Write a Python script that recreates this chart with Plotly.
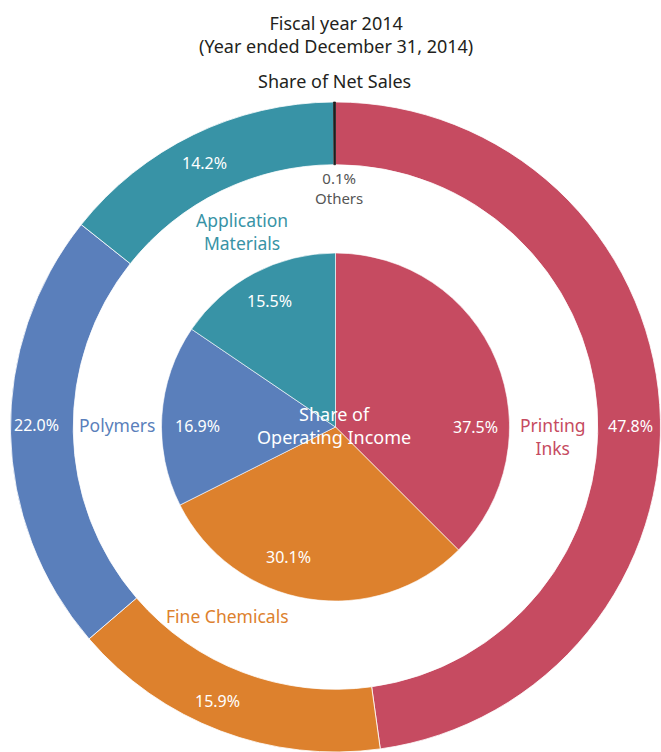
import plotly.graph_objects as go

# ---- data ----
outer_labels = ["Printing Inks", "Fine Chemicals", "Polymers", "Application Materials", "Others"]
outer_values = [47.8, 15.9, 22.0, 14.2, 0.1]
inner_labels = ["Printing Inks", "Fine Chemicals", "Polymers", "Application Materials"]
inner_values = [37.5, 30.1, 16.9, 15.5]

colors = {
    "Printing Inks": "#C64B61",
    "Fine Chemicals": "#DD812D",
    "Polymers": "#5A7FBB",
    "Application Materials": "#3893A6",
    "Others": "#1E1E1E",
}

W, H = 661, 752
FONT = "Noto Sans"

# label positions (pixels) for percentage texts
outer_pct_pos = {"Printing Inks": (630, 426), "Fine Chemicals": (217, 701),
                 "Polymers": (36, 425), "Application Materials": (205, 163)}
inner_pct_pos = {"Printing Inks": (475, 427), "Fine Chemicals": (288, 557),
                 "Polymers": (197, 426), "Application Materials": (269, 301)}

fig = go.Figure()

fig.add_trace(go.Pie(
    labels=outer_labels, values=outer_values, sort=False, direction="clockwise",
    rotation=0, hole=0.807,
    marker=dict(colors=[colors[l] for l in outer_labels],
                line=dict(color=["white"] * 4 + [colors["Others"]], width=0.8)),
    textinfo="none",
    domain=dict(x=[10 / W, 1.0], y=[0.0, 1 - 102 / H]),
    showlegend=False, hoverinfo="label+percent",
))

fig.add_trace(go.Pie(
    labels=inner_labels, values=inner_values, sort=False, direction="clockwise",
    rotation=0,
    marker=dict(colors=[colors[l] for l in inner_labels], line=dict(color="white", width=0.6)),
    textinfo="none",
    domain=dict(x=[(335.5 - 174) / W, (335.5 + 174) / W], y=[1 - 601 / H, 1 - 253 / H]),
    showlegend=False, hoverinfo="label+percent",
))

def ann(text, px, py, color, size=17.5):
    fig.add_annotation(text=text, x=px / W, y=1 - py / H, xref="paper", yref="paper",
                       showarrow=False, font=dict(family=FONT, size=size, color=color),
                       xanchor="center", yanchor="middle", align="center")

for lab, val in zip(outer_labels, outer_values):
    if lab in outer_pct_pos:
        ann(f"{val:.1f}%", *outer_pct_pos[lab], "white", 16)
for lab, val in zip(inner_labels, inner_values):
    ann(f"{val:.1f}%", *inner_pct_pos[lab], "white", 16)

ann("Fiscal year 2014<br>(Year ended December 31, 2014)", 336, 34, "#231F20", 18)
ann("Share of Net Sales", 334, 81, "#231F20", 18)
ann(f"{outer_values[-1]:.1f}%<br>Others", 339, 188, "#555555", 15)
ann("Application<br>Materials", 242, 231, colors["Application Materials"])
ann("Polymers", 117, 425, colors["Polymers"])
ann("Printing<br>Inks", 553, 437, colors["Printing Inks"])
ann("Fine Chemicals", 227, 616, colors["Fine Chemicals"])
ann("Share of<br>Operating Income", 334, 425, "white", 18)

fig.update_layout(
    width=W, height=H, margin=dict(l=0, r=0, t=0, b=0),
    paper_bgcolor="white", plot_bgcolor="white",
)

fig.write_html("out.html", config={"displayModeBar": False},
               post_script="document.body.style.margin='0px';document.body.style.overflow='hidden';")
